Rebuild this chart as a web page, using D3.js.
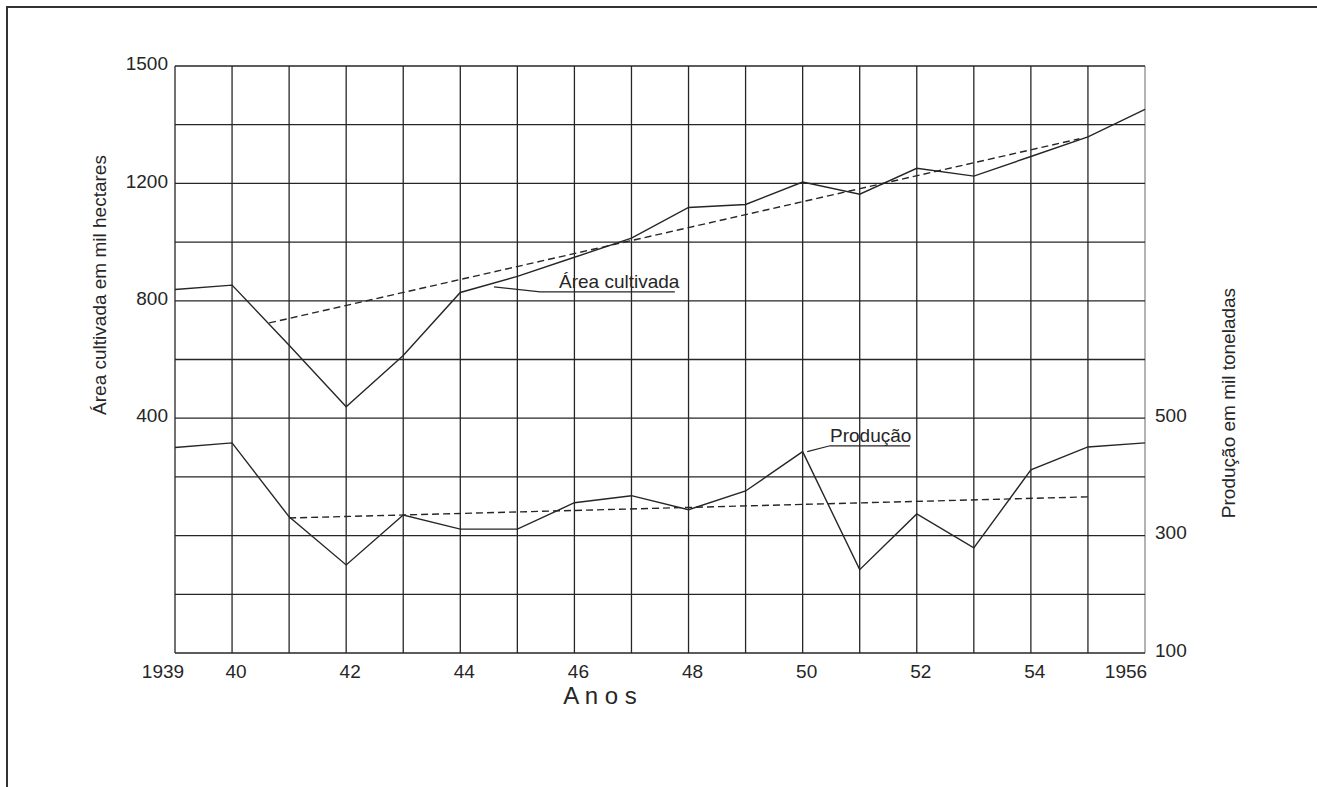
<!DOCTYPE html>
<html>
<head>
<meta charset="utf-8">
<script src="https://cdn.jsdelivr.net/npm/d3@7"></script>
<style>
  html, body { margin: 0; padding: 0; background: #fff; }
  svg { display: block; font-family: "Liberation Sans", Arial, sans-serif; }
</style>
</head>
<body>
<svg id="chart" width="1317" height="787"></svg>
<script>
// ---------- DATA ----------
const years = [1939, 1940, 1941, 1942, 1943, 1944, 1945, 1946, 1947, 1948, 1949, 1950, 1951, 1952, 1953, 1954, 1955, 1956];
const areaCultivada = [840, 855, 650, 440, 615, 830, 885, 950, 1015, 1120, 1130, 1205, 1165, 1240, 1220, 1270, 1320, 1390];
const producao = [450, 458, 332, 250, 335, 311, 311, 356, 368, 344, 376, 443, 242, 337, 279, 412, 451, 458];
const areaTrendYears = [1940.65, 1954.85];
const areaTrendValues = [726, 1315];
const prodTrendYears = [1941, 1955];
const prodTrendValues = [330, 366];
const leftTickValues = [400, 800, 1200, 1500];
const rightTickValues = [100, 300, 500];
const gridValues = [100, 200, 300, 400, 500, 600, 700, 800, 900, 1000, 1100];
const xTickYears = [1939, 1940, 1942, 1944, 1946, 1948, 1950, 1952, 1954, 1956];
const xTickLabels = ["1939", "40", "42", "44", "46", "48", "50", "52", "54", "1956"];

// ---------- LAYOUT ----------
const svg = d3.select("#chart");
const L = 175, R = 1145, T = 66, B = 653;
const ink = "#262626";

const x = d3.scaleLinear().domain([1939, 1956]).range([L, R]);
// left axis (non-uniform as in the original drawing)
const yL = d3.scaleLinear().domain([-400, 1200, 1500]).range([B, 184, T]);
// right axis
const yR = d3.scaleLinear().domain([100, 1100]).range([B, T]);

// frame (top and left border)
svg.append("line").attr("x1", 7).attr("x2", 1317).attr("y1", 7).attr("y2", 7)
  .attr("stroke", "#333").attr("stroke-width", 2);
svg.append("line").attr("x1", 7).attr("x2", 7).attr("y1", 6).attr("y2", 787)
  .attr("stroke", "#333").attr("stroke-width", 2);

// grid
const grid = svg.append("g").attr("stroke", ink).attr("stroke-width", 1.3);
grid.selectAll("line.v").data(years).join("line")
  .attr("class", "v")
  .attr("x1", d => x(d)).attr("x2", d => x(d))
  .attr("y1", T).attr("y2", B)
  .attr("stroke", d => d === 1956 ? "#8a8a8a" : ink);
grid.selectAll("line.h").data(gridValues).join("line")
  .attr("class", "h")
  .attr("x1", L).attr("x2", R)
  .attr("y1", d => yR(d)).attr("y2", d => yR(d));

// tick labels
const tickFont = 19;
svg.append("g").selectAll("text").data(leftTickValues).join("text")
  .attr("x", L - 7).attr("y", d => yL(d) - 3)
  .attr("dy", "0.35em")
  .attr("text-anchor", "end")
  .attr("font-size", tickFont).attr("fill", ink)
  .text(d => d);
svg.append("g").selectAll("text").data(rightTickValues).join("text")
  .attr("x", R + 10).attr("y", d => yR(d) - 3)
  .attr("dy", "0.35em")
  .attr("text-anchor", "start")
  .attr("font-size", tickFont).attr("fill", ink)
  .text(d => d);
svg.append("g").selectAll("text").data(xTickYears).join("text")
  .attr("x", d => x(d))
  .attr("dx", d => d === 1939 ? -12 : d === 1956 ? -19 : 4)
  .attr("y", 678)
  .attr("text-anchor", "middle")
  .attr("font-size", tickFont).attr("fill", ink)
  .text((d, i) => xTickLabels[i]);

// axis titles
svg.append("text")
  .attr("transform", `translate(106, 285) rotate(-90)`)
  .attr("text-anchor", "middle")
  .attr("font-size", 19).attr("fill", ink)
  .text("Área cultivada em mil hectares");
svg.append("text")
  .attr("transform", `translate(1235, 403) rotate(-90)`)
  .attr("text-anchor", "middle")
  .attr("font-size", 19).attr("fill", ink)
  .text("Produção em mil toneladas");
svg.append("text")
  .attr("x", 600).attr("y", 704)
  .attr("text-anchor", "middle")
  .attr("font-size", 24).attr("fill", ink)
  .text("A n o s");

// series lines
const lineL = d3.line().x(d => x(d[0])).y(d => yL(d[1]));
const lineR = d3.line().x(d => x(d[0])).y(d => yR(d[1]));

svg.append("path")
  .datum(years.map((y, i) => [y, areaCultivada[i]]))
  .attr("d", lineL).attr("fill", "none").attr("stroke", ink).attr("stroke-width", 1.4);
svg.append("path")
  .datum(years.map((y, i) => [y, producao[i]]))
  .attr("d", lineR).attr("fill", "none").attr("stroke", ink).attr("stroke-width", 1.4);

svg.append("path")
  .datum(areaTrendYears.map((y, i) => [y, areaTrendValues[i]]))
  .attr("d", lineL).attr("fill", "none").attr("stroke", ink).attr("stroke-width", 1.4)
  .attr("stroke-dasharray", "7,4");
svg.append("path")
  .datum(prodTrendYears.map((y, i) => [y, prodTrendValues[i]]))
  .attr("d", lineR).attr("fill", "none").attr("stroke", ink).attr("stroke-width", 1.4)
  .attr("stroke-dasharray", "7,4");

// series labels with leader lines
const ann = svg.append("g").attr("fill", "none").attr("stroke", ink).attr("stroke-width", 1.2);
ann.append("path").attr("d", lineL([[1944.59, 849], [1945.4, 832], [1947.76, 832]]));
svg.append("text")
  .attr("x", x(1945.73)).attr("y", yL(845))
  .attr("font-size", 19).attr("fill", ink)
  .text("Área cultivada");

ann.append("path").attr("d", lineR([[1950.08, 443], [1950.48, 453], [1951.88, 453]]));
svg.append("text")
  .attr("x", x(1950.48)).attr("y", yR(460))
  .attr("font-size", 19).attr("fill", ink)
  .text("Produção");
</script>
</body>
</html>
